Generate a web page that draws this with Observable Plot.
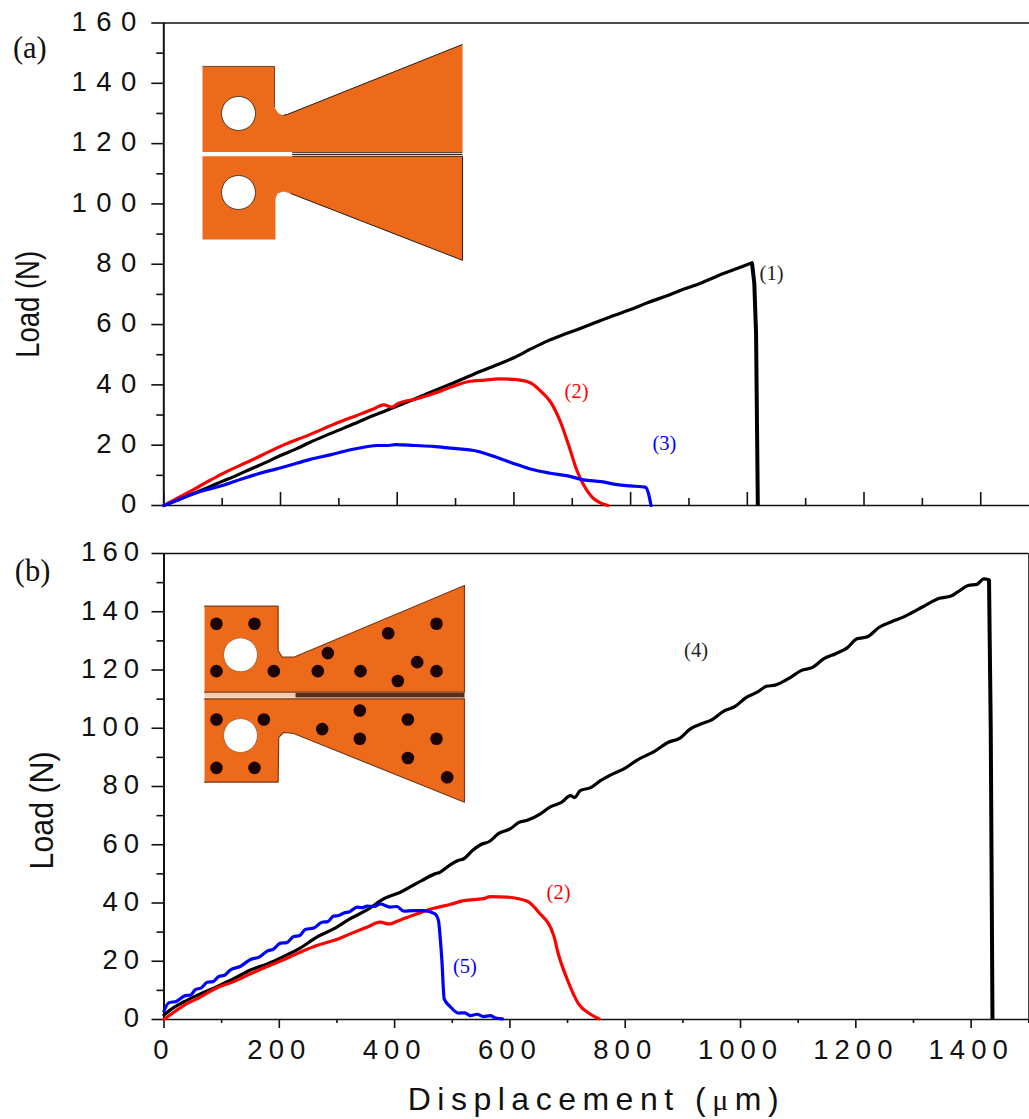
<!DOCTYPE html>
<html>
<head>
<meta charset="utf-8">
<script src="https://cdn.jsdelivr.net/npm/d3@7"></script>
<script src="https://cdn.jsdelivr.net/npm/@observablehq/plot@0.6"></script>
<style>
html,body{margin:0;padding:0;background:#fff;overflow:hidden}
#chart{width:1029px;height:1119px;position:relative;overflow:hidden}
#chart svg{background:#fff}
.panelA g[aria-label="y-axis tick label"] text{letter-spacing:9.5px}
.panelB g[aria-label="y-axis tick label"] text,.panelB g[aria-label="x-axis tick label"] text{letter-spacing:6px}
.xtitle text{letter-spacing:6.5px}
</style>
</head>
<body>
<div id="chart"></div>
<script>
const majorY=[0,20,40,60,80,100,120,140,160];
const minorY=[10,30,50,70,90,110,130,150];
const majorX=[0,200,400,600,800,1000,1200,1400];
const minorX=[100,300,500,700,900,1100,1300,1500];

// Panel (a) curves: [displacement, load]
const curve1=[[0,0],[25,1.9],[50,3.9],[75,5.9],[100,8],[125,10],[150,12.2],[175,14.3],[200,16.6],[225,18.6],[250,20.9],[275,23],[300,25],[325,27],[350,29.1],[375,31],[400,33],[425,34.9],[450,37],[475,39],[491,40.2],[520,42.6],[543,44.5],[570,46.6],[600,49],[630,52],[657,54.5],[690,57],[730,59.9],[771,63],[800,65],[830,67.3],[860,69.4],[885,71.3],[920,73.7],[950,76.2],[980,78.4],[1008,80.5]];
const drop1=[[1008,80.5],[1012,73.6],[1015,57],[1018,0]];
const curve2a=[[0,0],[25,2.6],[50,5.2],[75,7.9],[100,10.5],[150,15],[200,19.6],[250,23.5],[300,27.6],[330,29.8],[357,31.8],[377,33.4],[391,32.6],[400,33.7],[434,35.4],[465,37.3],[491,39.2],[525,41.2],[550,41.6],[574,42],[600,41.8],[628,40.7],[645,38.1],[663,34.3],[680,27.6],[694,19.9],[708,11.6],[720,6.6],[734,2.8],[761,0]];
const curve3=[[0,0],[25,1.9],[51,3.9],[100,6.6],[135,8.9],[171,11],[210,13],[251,15.3],[285,16.8],[320,18.5],[345,19.4],[366,19.9],[385,19.9],[397,20.2],[430,19.9],[462,19.6],[491,19],[537,18],[577,15.5],[605,13.6],[630,12],[663,10.7],[690,9.9],[720,8.5],[750,7.9],[777,6.9],[800,6.5],[825,6.1],[830,4.4],[835,0]];

// Panel (b) curves
const curve4=[[0,1.5],[11,3.3],[34,6],[63,8.8],[92,11.3],[121,14],[150,17],[179,19.1],[207,21.6],[236,24.5],[265,28.3],[294,31.1],[323,34.6],[352,37.6],[381,41.4],[410,43.7],[447,47.7],[470,50],[478,50.5],[497,53.2],[510,54.6],[520,55.2],[535,58],[549,60],[565,61.2],[580,63.8],[601,65.5],[615,67.6],[630,68.4],[653,70.6],[670,73],[690,74.6],[705,76.9],[712,76.2],[722,78.6],[740,79.6],[757,82],[775,84],[800,86.3],[820,89],[850,92],[875,95.2],[895,96.6],[913,99.8],[930,101.4],[950,102.9],[971,105.9],[990,107.4],[1010,110.6],[1029,112.4],[1045,114.4],[1060,114.8],[1087,117.5],[1105,119.8],[1125,120.9],[1144,123.8],[1165,125.6],[1185,127.6],[1202,130.7],[1220,131.4],[1240,134.6],[1260,136.4],[1285,138.4],[1300,140],[1318,141.9],[1345,144.6],[1365,145.4],[1376,146.7],[1395,149],[1410,149.4],[1422,151.3],[1431,151]];
const drop4=[[1431,151],[1434,100],[1437,0]];
const curve2b=[[0,0],[34,4.8],[63,7.7],[92,10.9],[121,13],[150,15.7],[179,18.2],[207,20.5],[236,23.1],[265,25.4],[294,27.1],[323,29.4],[352,31.7],[375,33.4],[390,32.8],[410,34.2],[439,36.3],[468,38.2],[496,39.5],[520,40.8],[554,41.5],[566,42.2],[595,42],[630,40.6],[650,36.8],[676,28.8],[684,22.5],[699,14],[719,5.4],[739,1.9],[755,0.2]];
const curve5=[[0,2.9],[8,5.7],[22,6.3],[37,8.2],[46,8.4],[54,10.2],[65,10.9],[75,12.8],[85,13],[95,14.8],[105,15.2],[115,17],[132,18.2],[150,20.6],[165,21.4],[179,23.5],[190,24.2],[202,26.2],[213,26.4],[225,28.5],[235,28.8],[245,30.9],[260,31.4],[274,33.4],[284,33.6],[294,35.5],[303,35.7],[312,36.6],[322,37],[335,38.6],[343,38.4],[352,38.9],[365,38.8],[375,39.7],[392,38.6],[404,38.8],[416,37.2],[433,37.4],[450,37.4],[470,36.3],[476,34],[479,28.3],[482,20.3],[486,7.1],[496,4.5],[511,2.2],[522,2.3],[531,1.3],[543,1.8],[554,1],[566,1.3],[575,0.5],[587,0.2]];

// Inset specimens, drawn in chart units
const insetTopA=[[66.3,145.6],[189.7,145.6],[189.7,132],[196.6,130],[205,129.4],[212,129.7],[512,152.9],[512,117.2],[66.3,117.2]];
const insetBottomA=[[66.3,115.8],[512,115.8],[512,81.3],[217,103.5],[205,104.1],[194.9,103.5],[191.4,101.8],[191.4,88.2],[66.3,88.2]];
const insetHolesA=[[128,130],[128,103.8]];
const insetTopB=[[70.3,141.9],[198,141.9],[198,126.7],[205,124.4],[225,124.4],[521.2,149],[521.2,112.4],[70.3,112.4]];
const insetBottomB=[[70.3,110.1],[521.2,110.1],[521.2,74.6],[225,98.2],[207.8,98.6],[199,96.9],[198,81.5],[70.3,81.5]];
const insetHolesB=[[132.7,125.2],[132.7,97.5]];
const rivetsB=[[91,135.9],[157,135.9],[91,119.6],[190.5,119.6],[266.8,119.6],[340.9,119.6],[284.2,125.8],[388.9,132.6],[472.7,135.9],[439.2,122.7],[472.7,119.6],[405.6,116.2],[91,103],[173.2,103],[339.7,106.1],[423,103],[274.4,99.7],[339.7,96.4],[472.7,96.4],[423,89.8],[91,86.4],[157,86.4],[491.2,83.2]];

const sans='"Liberation Sans",Arial,sans-serif', serif='"Liberation Serif","Times New Roman",serif';
const orange="#EE6A1B", edge="#2a1a10";
const X=d=>d[0], Y=d=>d[1];
const curve=(d,stroke,w=3.2)=>Plot.line(d,{x:X,y:Y,stroke,strokeWidth:w,strokeLinejoin:"round",curve:"monotone-x"});
const straight=(d,stroke,w=4)=>Plot.line(d,{x:X,y:Y,stroke,strokeWidth:w,strokeLinejoin:"round",strokeLinecap:"butt"});
const poly=(d,stroke,w)=>Plot.line(d,{x:X,y:Y,fill:orange,stroke,strokeWidth:w});
const thin=(d,stroke,w,o=1)=>Plot.line(d,{x:X,y:Y,stroke,strokeWidth:w,strokeOpacity:o,strokeLinecap:"butt"});
const note=(t,x,y,fill,fontSize=20.5)=>Plot.text([t],{x:()=>x,y:()=>y,fill,fontSize,fontFamily:serif,text:d=>d});
const ann=(t,x,y,dx,size,fam,rotate)=>Plot.text([t],{x:()=>x,y:()=>y,dx,rotate,fontSize:size,fontFamily:fam,fill:"#111",text:d=>d});
const frame=(w)=>[Plot.ruleX([0],{strokeWidth:w,stroke:"#111"}),Plot.ruleY([0],{strokeWidth:1.5,stroke:"#111"}),Plot.ruleY([160],{strokeWidth:1.5,stroke:"#111"})];
// y-axis: tick marks at their true position, tick labels lifted by one pixel
const yAxis=(pad)=>[
  Plot.axisY({ticks:majorY,tickSize:12,fill:"none",label:null,strokeWidth:1.6,stroke:"#111"}),
  Plot.axisY({ticks:minorY,tickSize:7,fill:"none",label:null,strokeWidth:1.6,stroke:"#111"}),
  Plot.axisY({ticks:majorY,tickSize:0,tickPadding:12+pad,dy:-1,fontSize:27.5,fontFamily:sans,label:null,fill:"#111"})
];

const panelA=Plot.plot({
  className:"panelA",width:1029,height:530,marginLeft:163.3,marginRight:0,marginTop:22.5,marginBottom:25,
  style:{background:"#fff",color:"#111",overflow:"hidden"},
  x:{domain:[0,1483.6],axis:null},y:{domain:[0,160],axis:null},
  marks:[
    poly(insetTopA,"none",0),poly(insetBottomA,"none",0),
    thin(insetTopA.slice(4,7),edge,1),
    thin(insetBottomA.slice(1,4),edge,1),
    thin(insetTopA.slice(0,3),edge,1,.7),
    thin([[66.3,116.5],[220,116.5]],"#fff",3),
    thin([[220,117],[512,117]],"#3a2010",1),
    thin([[220,116.4],[512,116.4]],"#3a2010",1),
    thin([[220,115.8],[512,115.8]],"#3a2010",1),
    Plot.dot(insetHolesA,{x:X,y:Y,r:17,fill:"#fff",stroke:edge,strokeWidth:.8}),
    ...frame(2),
    ...yAxis(6),
    Plot.ruleX(majorX,{y1:0,y2:4.3,strokeWidth:1.6,stroke:"#111"}),
    Plot.ruleX(minorX.slice(0,7),{y1:0,y2:2.3,strokeWidth:1.6,stroke:"#111"}),
    curve(curve1,"#000"),straight(drop1,"#000"),curve(curve2a,"#f00"),curve(curve3,"#00f"),
    note("(1)",1041.5,76.9,"#222"),note("(2)",707.3,37.9,"#f00"),note("(3)",858,20.6,"#00f"),
    ann("(a)",0,151.6,-134,30.5,serif),
    ann("Load (N)",0,66.7,-135,33,sans,-90)
  ]
});

const panelB=Plot.plot({
  className:"panelB",width:1029,height:589,marginLeft:163.5,marginRight:0.7,marginTop:23,marginBottom:100,
  style:{background:"#fff",color:"#111"},
  x:{domain:[0,1500],axis:null},y:{domain:[0,160],axis:null},
  marks:[
    poly(insetTopB,"#7a3a18",1.2),poly(insetBottomB,"#7a3a18",1.2),
    thin([[70.3,111.3],[228,111.3]],"#f6c9a8",4.5),
    thin([[228,111.3],[521.2,111.3]],"#5a2e14",4.5),
    Plot.dot(insetHolesB,{x:X,y:Y,r:17,fill:"#fff",stroke:"#b5622c",strokeWidth:1}),
    Plot.dot(rivetsB,{x:X,y:Y,r:6.3,fill:"#1c0404"}),
    ...frame(2),
    Plot.ruleX([1500],{strokeWidth:1.2,stroke:"#111"}),
    ...yAxis(7),
    Plot.axisX({ticks:majorX,tickFormat:d=>String(d),tickSize:9,tickPadding:11,fontSize:27.5,fontFamily:sans,label:null,strokeWidth:1.6,fill:"#111",stroke:"#111"}),
    Plot.axisX({ticks:minorX,tickSize:4,fill:"none",label:null,strokeWidth:1.6,stroke:"#111"}),
    curve(curve4,"#000"),straight(drop4,"#000"),curve(curve2b,"#f00"),curve(curve5,"#00f"),
    note("(4)",922.8,126.7,"#222"),note("(2)",684.3,43.6,"#f00"),note("(5)",522,18.2,"#00f"),
    ann("(b)",0,153.8,-131.5,30.5,serif),
    ann("Load (N)",0,71.8,-122,33,sans,-90),
    Plot.text(["Displacement (μm)"],{className:"xtitle",x:()=>750,y:()=>0,dy:80,fontSize:32,fontFamily:sans,fill:"#111",text:d=>d})
  ]
});
document.getElementById("chart").append(panelA,panelB);

// Compress the y titles along their length, and set the μ in a serif as in the original
d3.select(panelA).selectAll("text").filter(function(){return this.textContent==="Load (N)"}).attr("textLength",107).attr("lengthAdjust","spacingAndGlyphs");
d3.select(panelB).selectAll("text").filter(function(){return this.textContent==="Load (N)"}).attr("textLength",118).attr("lengthAdjust","spacingAndGlyphs");
d3.select(panelB).selectAll(".xtitle text").each(function(){
  const t=d3.select(this).text(null);
  t.append("tspan").text("Displacement (");
  t.append("tspan").attr("font-family",serif).attr("font-size",30).text("μ");
  t.append("tspan").text("m)");
});
</script>
</body>
</html>
